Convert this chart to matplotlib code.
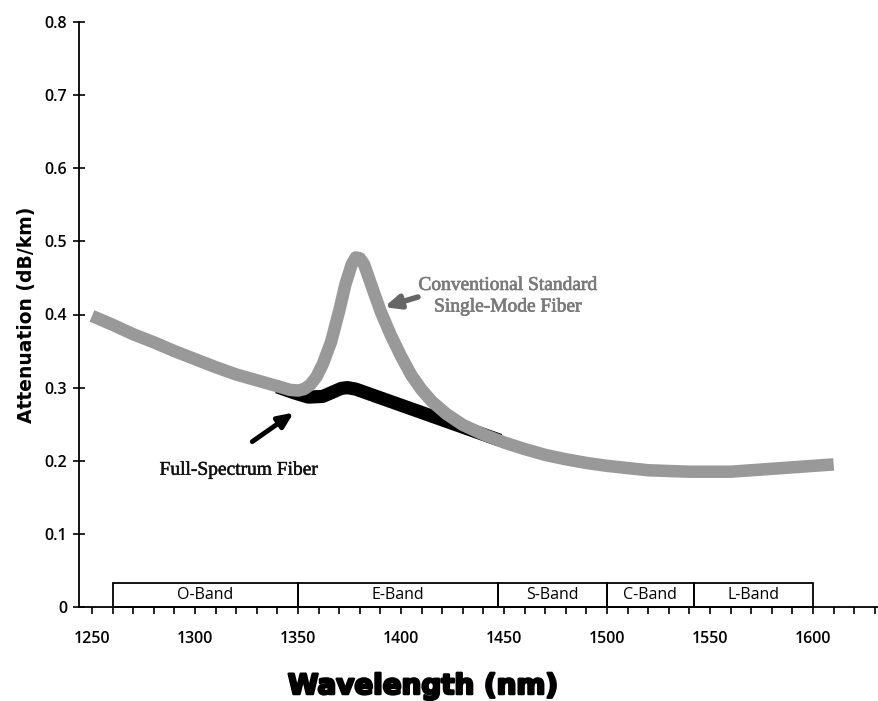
import matplotlib.pyplot as plt
import matplotlib.patheffects as pe
from matplotlib.patches import Rectangle

# attenuation curves (nm, dB/km)
conv_wl = [1250, 1260, 1270, 1280, 1290, 1300, 1310, 1320, 1330, 1340, 1346,
           1350, 1353, 1356, 1359, 1362, 1366, 1370, 1373, 1376, 1378, 1380,
           1382, 1385, 1390, 1395, 1400, 1405, 1410, 1415, 1422, 1430, 1440,
           1450, 1460, 1470, 1480, 1490, 1500, 1510, 1520, 1530, 1540, 1550,
           1560, 1570, 1580, 1590, 1600, 1610]
conv_att = [0.398, 0.386, 0.373, 0.362, 0.350, 0.339, 0.328, 0.318, 0.310, 0.302, 0.297,
            0.296, 0.298, 0.304, 0.315, 0.332, 0.362, 0.405, 0.441, 0.468, 0.478, 0.477,
            0.469, 0.445, 0.405, 0.372, 0.343, 0.317, 0.297, 0.281, 0.264, 0.249, 0.236,
            0.225, 0.216, 0.208, 0.202, 0.197, 0.193, 0.190, 0.187, 0.186, 0.185, 0.185,
            0.185, 0.187, 0.189, 0.191, 0.193, 0.195]

full_wl = [1340, 1348, 1355, 1362, 1367, 1371, 1374, 1378, 1385, 1398, 1410, 1422, 1435, 1448]
full_att = [0.301, 0.293, 0.287, 0.288, 0.294, 0.299, 0.300, 0.298, 0.291, 0.278, 0.266,
            0.254, 0.241, 0.228]

# wavelength bands
band_names = ['O-Band', 'E-Band', 'S-Band', 'C-Band', 'L-Band']
band_edges = [1260, 1350, 1447, 1500, 1542, 1600]
band_height = 0.033

y_ticks = [0, 0.1, 0.2, 0.3, 0.4, 0.5, 0.6, 0.7, 0.8]
y_tick_labels = ['0', '0.1', '0.2', '0.3', '0.4', '0.5', '0.6', '0.7', '0.8']
x_ticks = [1250, 1300, 1350, 1400, 1450, 1500, 1550, 1600]

fig = plt.figure(figsize=(8.79, 7.01), dpi=100)
ax = fig.add_axes([79 / 879, 94 / 701, 800 / 879, 585 / 701])

ax.plot(full_wl, full_att, color='black', lw=9.5, solid_capstyle='butt',
        solid_joinstyle='round', zorder=3)
ax.plot(conv_wl, conv_att, color='#999999', lw=9, solid_capstyle='butt',
        solid_joinstyle='round', zorder=4)

for name, x0, x1 in zip(band_names, band_edges[:-1], band_edges[1:]):
    ax.add_patch(Rectangle((x0, 0), x1 - x0, band_height, fill=False,
                           edgecolor='black', lw=1.3, clip_on=False, zorder=2))
    ax.text((x0 + x1) / 2, band_height / 2, name, ha='center', va='center',
            fontsize=11.5, family='Open Sans')

ax.annotate('', xy=(1390.5, 0.409), xytext=(1409.5, 0.425),
            arrowprops=dict(arrowstyle='-|>,head_length=0.9,head_width=0.4',
                            color='#666666', lw=4))
ax.text(1452, 0.425, 'Conventional Standard\nSingle-Mode Fiber', ha='center',
        va='center', fontsize=14, family='Liberation Serif', color='#7a7a7a',
        linespacing=1.35,
        path_effects=[pe.withStroke(linewidth=0.5, foreground='#7a7a7a')])

ax.annotate('', xy=(1349, 0.268), xytext=(1326.7, 0.224),
            arrowprops=dict(arrowstyle='-|>,head_length=0.9,head_width=0.4',
                            color='black', lw=3.5))
ax.text(1321.4, 0.187, 'Full-Spectrum Fiber', ha='center', va='center',
        fontsize=14, family='Liberation Serif', color='#111111',
        path_effects=[pe.withStroke(linewidth=0.35, foreground='#111111')])

ax.set_xlim(1243.7, 1632)
ax.set_ylim(0, 0.8)
ax.set_xticks(x_ticks)
ax.set_xticks(range(1250, 1631, 10), minor=True)
ax.set_xticklabels([str(v) for v in x_ticks], family='Open Sans', fontsize=11.5,
                   fontweight='semibold')
ax.set_yticks(y_ticks)
ax.set_yticklabels(y_tick_labels, family='Open Sans', fontsize=11.5,
                   fontweight='semibold')
ax.tick_params(axis='x', which='both', direction='out', length=5, width=1.2, pad=12)
ax.tick_params(axis='y', direction='inout', length=9, width=1.2, pad=4)

for side in ['top', 'right']:
    ax.spines[side].set_visible(False)
for side in ['left', 'bottom']:
    ax.spines[side].set_linewidth(1.3)

ax.set_ylabel('Attenuation (dB/km)', fontsize=13.5, fontweight='bold', labelpad=6)
fig.text(423 / 879, 1 - 686 / 701, 'Wavelength (nm)', ha='center', va='center',
         fontsize=20, fontweight='heavy',
         path_effects=[pe.withStroke(linewidth=1.8, foreground='black')])

fig.savefig('out.png', dpi=100)
